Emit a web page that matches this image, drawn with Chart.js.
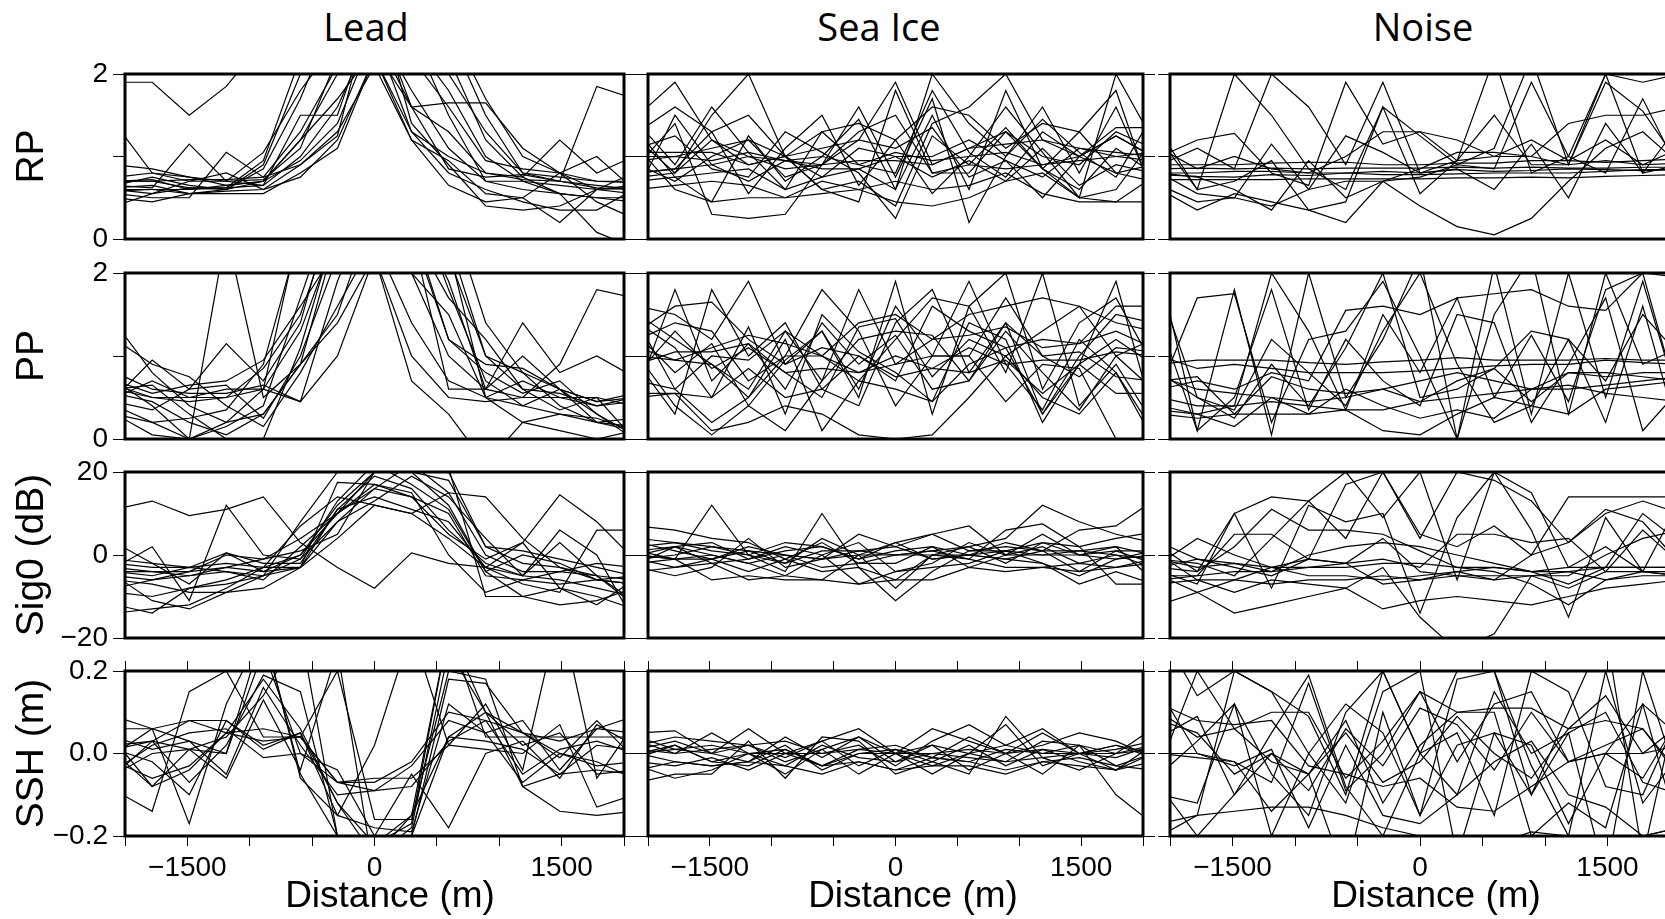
<!DOCTYPE html>
<html>
<head>
<meta charset="utf-8">
<script src="https://cdn.jsdelivr.net/npm/chart.js@4.4.0/dist/chart.umd.min.js"></script>
<style>
  body { margin: 0; background: #fff; width: 1665px; height: 919px; overflow: hidden; position: relative; }
  .col-title { position: absolute; top: 6px; font-family: "Open Sans", sans-serif; font-size: 38px; line-height: 40px; transform: translateX(-50%); white-space: nowrap; color: #000; }
  .x-title { position: absolute; top: 874px; font-family: "Liberation Sans", Arial, sans-serif; font-size: 37px; line-height: 42px; transform: translateX(-50%); white-space: nowrap; color: #000; z-index: 2; }
  canvas { position: absolute; }
</style>
</head>
<body>
<div class="col-title" style="left:366px">Lead</div>
<div class="col-title" style="left:879px">Sea Ice</div>
<div class="col-title" style="left:1423px">Noise</div>
<div class="x-title" style="left:390px">Distance (m)</div>
<div class="x-title" style="left:913px">Distance (m)</div>
<div class="x-title" style="left:1436px">Distance (m)</div>

<script>
// along-track distance of each waveform (m)
const distance = [-2079, -1782, -1485, -1188, -891, -594, -297, 0, 297, 594, 891, 1188, 1485, 1782, 2079];
const xTickLabels = [-1500, 0, 1500];

// ---- Lead ----
const leadRP = [
  [1.9, 1.9, 1.5, 1.85, 2.4, 3.5, 5, 6, 4, 2.5, 1.5, 0.8, 0.75, 0.7, 0.68],
  [1.4, 0.8, 0.75, 0.65, 0.7, 0.95, 1.4, 2.5, 1.3, 1.0, 0.8, 0.72, 0.7, 0.65, 0.6],
  [0.7, 0.72, 0.6, 0.62, 0.65, 1.5, 1.5, 2.8, 1.6, 1.65, 1.65, 1.1, 0.8, 0.6, 0.55],
  [0.65, 0.62, 1.15, 0.7, 0.65, 1.0, 1.6, 2.6, 1.8, 1.1, 0.7, 0.6, 0.55, 0.5, 0.45],
  [0.55, 0.5, 0.5, 1.05, 0.75, 0.9, 1.25, 3, 1.4, 0.9, 0.4, 0.35, 0.4, 0.6, 0.8],
  [0.6, 0.6, 0.55, 0.55, 0.55, 0.8, 1.1, 2.2, 1.3, 0.8, 0.6, 0.45, 0.35, 0.35, 0.6],
  [0.5, 0.45, 0.55, 0.6, 0.9, 2.0, 3, 4, 3, 2.0, 1.3, 0.8, 0.7, 0.62, 0.6],
  [0.75, 0.8, 0.7, 0.7, 0.72, 1.1, 2.2, 3.5, 2.5, 1.5, 0.7, 0.7, 0.65, 0.6, 0.62],
  [0.65, 0.75, 0.65, 0.6, 0.85, 1.7, 2.8, 5, 3, 2.2, 1.2, 0.75, 0.55, 0.5, 0.5],
  [0.62, 0.65, 0.55, 0.58, 0.6, 0.9, 1.3, 2.1, 1.2, 0.95, 0.55, 0.5, 0.2, 0.6, 0.65],
  [0.7, 0.7, 0.62, 0.62, 0.95, 2.2, 3.5, 4.5, 3.5, 2.6, 1.7, 1.0, 0.8, 0.45, 0.25],
  [0.6, 0.55, 0.7, 0.8, 0.6, 0.75, 1.2, 2.2, 1.2, 0.65, 0.45, 0.5, 0.8, 1.0, 0.6],
  [0.58, 0.6, 0.6, 0.65, 0.7, 1.2, 1.7, 2.3, 1.6, 1.3, 0.8, 0.75, 1.2, 0.8, 1.0],
  [0.9, 0.85, 0.75, 0.7, 1.05, 1.8, 2.4, 3, 2.2, 1.6, 0.95, 0.85, 0.8, 0.7, 0.7],
  [0.7, 0.7, 0.72, 0.72, 0.75, 1.3, 2.1, 2.6, 2.4, 1.8, 1.0, 0.7, 0.55, 0.08, -0.1],
  [0.4, 0.55, 0.62, 0.6, 0.7, 1.2, 2.0, 2.5, 1.6, 0.85, 0.75, 0.78, 0.7, 1.85, 1.7]
];
const leadPP = [
  [1.4, 0.8, 0.4, 0.2, 0.3, 0.9, 1.4, 2.2, 1.0, 0.5, 0.45, 0.5, 0.9, 1.8, 1.7],
  [0.5, 0.95, 0.6, 1.15, 0.7, 1.4, 3, 4, 3, 1.8, 0.7, 0.4, 0.3, 0.25, 0.1],
  [0.7, 0.4, 0.0, 2.5, 0.5, 0.9, 2.5, 4, 3, 2.3, 0.5, 0.7, 0.5, 0.5, 0.4],
  [0.5, 0.7, 0.5, 0.5, 0.85, 1.5, 2.8, 3.5, 2.5, 1.7, 1.2, 0.6, 0.55, 0.4, 0.45],
  [0.3, 0.2, 0.0, 0.15, 0.4, 1.7, 3, 4, 2, 1.0, 0.6, 1.0, 0.6, 0.3, 0.0],
  [0.6, 0.5, 0.5, 0.6, 0.6, 1.3, 2.5, 3, 2.5, 1.2, 0.9, 0.85, 0.6, 0.45, 0.5],
  [0.4, 0.2, 0.25, 0.35, 0.9, 2.5, 4, 5, 4, 2.4, 1.0, 0.8, 0.4, 0.2, 0.15],
  [0.8, 0.6, 0.55, 0.55, 0.65, 0.45, 1.0, 2.2, 0.7, 0.3, -0.3, 0.2, 0.3, 0.2, 0.1],
  [0.55, 0.45, 0.2, 0.05, 0.3, 0.9, 1.5, 2.8, 2, 1.5, 0.5, 0.2, 0.1, 0.0, 0.1],
  [0.65, 0.5, 0.45, 0.5, 0.6, 0.45, 1.9, 3, 2.5, 0.6, 0.6, 1.4, 0.8, 1.0, 0.75],
  [0.45, 0.35, 0.6, 0.65, 0.25, 1.0, 2.2, 3.5, 2.8, 1.9, 0.6, 0.5, 0.5, 0.4, 0.5],
  [1.2, 0.9, 0.75, 0.4, 0.15, 0.8, 1.6, 2.4, 1.4, 0.7, 0.5, 0.4, 0.6, 0.2, 0.25],
  [0.3, 0.05, 0.0, 0.2, 0.6, 2.6, 3.5, 4.5, 3.5, 2.8, 1.4, 0.8, 0.6, 0.45, 0.55],
  [0.6, 0.65, 0.3, 0.0, 0.0, 1.1, 2.6, 3.5, 2.6, 1.2, 0.8, 0.55, 0.7, 0.3, 0.05],
  [0.7, 0.55, 0.65, 0.7, 0.95, 1.6, 2.3, 2.7, 2.1, 2.2, 1.0, 0.6, 0.35, 0.5, 0.0]
];
const leadSig0 = [
  [11, 13, 9.5, 11, 14, 3, -3, -8, 0.5, -2, -3, -5, -6, -8, -10],
  [3, -2, -7, 0.5, -4, 0, 10, 20, 25, 20, 2, -2, -3, -6, -7],
  [-3, 2, -11, 12, 0, -1, 8, 16, 22, 15, 0, -4, -4, -2, -3],
  [-4, -4, -5, -4, -5, -1, 13, 22, 17, 11, -4, 0, -2, -6, -7],
  [-5, -6, -5, -3, -4, -3, 11, 19, 16, 6, -2, -5, 3, -5, -11],
  [-2, -3, -3, -2, -3, -3, 17.5, 17, 14, 10, -5, -6, -4, -5, -6],
  [-6, -7, -9, -9, -8, -3, 4, 12, 10, 15, 14, 4, -3, -5, -12],
  [-14, -13, -12, -8, -3, 0, 12, 20, 22, 21, -10, -10, -12, -11, -8],
  [-9, -10, -8, -6, -3, 7, 14, 12, 10, 4, -3, 3, 14.5, 8, -1],
  [-4, -5, -3, -4, -6, 2, 10, 17, 15, 0, -9, -6, -7, -6, -5],
  [-3, -4, -4, -3, -1, 1, 5, 20, 20, 18, 2, 1, -1, -3, -5],
  [-5, -11, -13, -9, -5, -3, 8, 13, 19, 14, 4, -5, 6, 0, -16],
  [-8, -6, -4, 0, -1, 4, 10, 16, 14, 5, -1, 3, -8, -12, -6],
  [-12, -14, -8, -7, -5, 8, 20, 25, 20, 12, -4, -10, -8, -10, -13],
  [-1, -2, -3, 0.5, -2, -2, 11, 14, 11, 8, -3, -7, -9, 6, 6]
];
const leadSSH = [
  [0.09, 0.06, 0.08, 0.05, 0.06, 0.04, -0.07, -0.07, -0.02, 0.1, 0.08, 0.05, 0.03, 0.06, 0.09],
  [0.0, -0.08, 0.01, 0.0, 0.3, -0.05, -0.2, -0.3, -0.2, 0.18, 0.17, 0.05, 0.0, -0.03, -0.02],
  [-0.05, 0.03, 0.08, 0.08, 0.02, 0.05, -0.12, -0.25, -0.15, 0.3, 0.1, -0.08, -0.05, 0.02, 0.01],
  [0.06, 0.06, -0.17, 0.12, 0.3, -0.06, -0.15, -0.18, -0.19, 0.12, 0.05, -0.07, 0.0, -0.02, -0.06],
  [-0.09, -0.14, 0.15, 0.2, 0.04, 0.04, -0.07, -0.06, -0.06, 0.02, 0.01, 0.0, 0.07, -0.13, -0.1],
  [0.0, 0.06, 0.03, -0.05, 0.16, 0.02, -0.1, -0.09, -0.03, 0.08, 0.05, 0.08, -0.04, 0.06, 0.05],
  [-0.02, -0.06, -0.03, 0.05, 0.03, 0.04, 0.2, -0.16, -0.16, 0.2, 0.18, -0.08, -0.14, -0.15, -0.14],
  [0.03, -0.08, -0.04, 0.05, 0.18, 0.06, -0.12, -0.22, -0.17, 0.3, 0.04, 0.04, 0.04, 0.04, 0.04],
  [-0.05, 0.0, 0.01, -0.06, 0.13, -0.04, 0.25, -0.3, -0.2, 0.04, 0.1, 0.02, 0.05, -0.05, -0.04],
  [0.01, -0.02, -0.1, 0.08, 0.01, 0.05, -0.15, 0.02, 0.3, 0.02, 0.12, -0.04, 0.35, -0.06, 0.07],
  [0.04, 0.01, 0.03, 0.0, 0.25, 0.0, -0.07, -0.09, -0.08, 0.03, 0.08, -0.05, 0.01, 0.03, 0.0],
  [0.02, 0.03, -0.07, 0.02, 0.19, 0.15, -0.2, -0.25, -0.18, 0.25, 0.1, 0.05, -0.01, 0.08, -0.01],
  [-0.04, 0.02, 0.05, 0.06, -0.01, 0.0, -0.04, -0.2, -0.05, -0.18, 0.0, 0.03, -0.06, 0.07, 0.02],
  [0.01, 0.03, 0.01, 0.04, 0.14, 0.3, -0.2, -0.22, -0.15, 0.04, 0.03, 0.01, -0.05, -0.04, -0.05]
];

// ---- Sea Ice ----
const iceRP = [
  [1.5, 1.9, 1.2, 0.9, 1.0, 1.1, 1.2, 1.9, 0.9, 1.1, 1.3, 1.0, 0.9, 1.3, 1.1],
  [1.2, 0.8, 1.5, 2.0, 1.0, 0.6, 0.7, 0.4, 1.4, 1.6, 2.0, 1.2, 1.0, 0.8, 0.9],
  [0.9, 1.4, 0.3, 0.25, 0.3, 0.9, 1.6, 0.75, 1.7, 0.2, 1.0, 1.6, 0.8, 1.6, 0.6],
  [1.0, 1.0, 1.1, 1.2, 1.0, 0.6, 0.45, 1.8, 0.8, 0.8, 1.3, 0.85, 0.5, 2.0, 1.2],
  [1.3, 1.6, 1.3, 1.5, 1.0, 1.3, 1.4, 1.2, 1.6, 1.5, 1.1, 1.4, 1.3, 1.8, 0.5],
  [0.8, 0.85, 0.9, 1.0, 0.95, 0.9, 0.95, 0.95, 0.9, 1.1, 1.15, 1.2, 1.1, 1.05, 1.0],
  [1.1, 0.6, 0.45, 0.5, 0.5, 0.7, 0.6, 0.7, 0.6, 0.65, 0.8, 0.55, 0.45, 0.45, 0.45],
  [0.6, 0.65, 0.7, 0.65, 0.5, 0.55, 0.6, 0.45, 0.4, 0.5, 0.7, 0.8, 0.5, 0.45, 0.75],
  [1.4, 0.9, 1.6, 1.05, 0.6, 1.3, 0.9, 0.8, 1.8, 1.05, 0.75, 1.3, 1.0, 1.25, 1.0],
  [0.8, 0.85, 1.3, 0.55, 1.1, 1.5, 0.65, 1.2, 0.55, 1.0, 1.6, 1.05, 0.5, 0.6, 1.2],
  [1.05, 1.05, 1.05, 0.9, 1.0, 0.75, 0.85, 1.0, 1.0, 1.2, 0.95, 0.75, 1.1, 1.0, 0.95],
  [0.9, 0.7, 1.0, 1.2, 0.75, 0.9, 1.2, 1.1, 1.35, 0.75, 0.95, 0.5, 1.0, 1.25, 1.0],
  [0.6, 1.5, 0.9, 0.7, 0.95, 0.85, 0.85, 0.6, 1.5, 0.6, 1.8, 0.85, 0.6, 1.1, 0.8],
  [0.75, 0.8, 1.2, 1.0, 0.85, 0.9, 1.3, 1.5, 0.8, 0.9, 0.85, 0.9, 1.0, 1.35, 1.35],
  [1.3, 0.75, 0.45, 1.25, 0.7, 1.0, 1.45, 0.6, 2.0, 1.4, 1.0, 1.45, 1.05, 0.75, 1.5],
  [1.1, 1.25, 0.85, 0.75, 1.3, 1.05, 0.8, 0.25, 1.25, 0.9, 1.35, 0.85, 1.3, 0.8, 0.7],
  [0.95, 1.0, 0.95, 1.05, 0.95, 1.0, 0.9, 1.05, 0.95, 1.0, 1.05, 0.9, 0.95, 1.0, 1.05],
  [0.7, 0.75, 0.8, 0.85, 0.6, 0.75, 1.1, 1.0, 0.75, 0.95, 0.7, 1.1, 0.65, 0.9, 0.8]
];
const icePP = [
  [1.6, 1.5, 1.2, 1.9, 0.9, 1.3, 0.5, 1.9, 0.3, 1.6, 2.0, 0.6, 1.4, 1.7, 0.9],
  [1.4, 0.6, 0.2, 0.5, 1.2, 0.1, 0.7, 1.2, 1.7, 1.6, 0.8, 2.0, 0.4, 0.9, 0.2],
  [1.2, 1.4, 1.3, 0.7, 1.0, 1.0, 0.7, 0.6, 0.45, 0.9, 1.1, 1.2, 1.15, 1.3, 1.1],
  [0.9, 0.3, 1.8, 1.0, 1.4, 0.6, 0.4, 1.4, 1.8, 0.8, 1.4, 0.3, 0.9, 1.9, 0.3],
  [1.0, 0.95, 0.9, 0.6, 1.3, 1.0, 0.8, 0.9, 1.2, 1.5, 1.6, 1.7, 1.6, 1.4, 1.3],
  [0.5, 0.55, 0.1, 0.2, 0.4, 0.3, 0.05, 0.0, 0.05, 0.5, 1.0, 0.5, 0.3, 0.8, 0.1],
  [1.3, 1.6, 1.65, 1.2, 0.9, 1.1, 1.0, 0.7, 1.6, 1.3, 1.1, 0.3, 1.0, 1.5, 1.4],
  [0.55, 0.55, 0.5, 0.85, 0.5, 0.6, 1.0, 0.75, 0.85, 0.8, 0.95, 0.55, 0.9, 0.55, 0.55],
  [1.1, 0.95, 1.1, 1.25, 1.15, 1.0, 1.4, 1.5, 1.2, 1.25, 1.35, 1.1, 1.15, 1.6, 1.6],
  [1.5, 1.2, 0.9, 0.5, 1.0, 1.8, 1.3, 0.4, 1.0, 1.9, 0.9, 0.35, 1.2, 0.8, 0.0],
  [0.8, 1.3, 0.85, 1.1, 0.8, 0.5, 1.35, 1.45, 0.75, 1.2, 1.0, 1.3, 1.6, 1.0, 1.2],
  [1.25, 0.8, 1.15, 0.4, 0.95, 1.3, 0.6, 1.6, 1.0, 1.0, 0.45, 0.9, 0.85, 0.0, -0.2],
  [0.9, 1.05, 1.05, 1.15, 0.8, 0.85, 0.8, 1.0, 0.85, 1.1, 0.9, 0.95, 0.95, 1.05, 1.0],
  [1.4, 1.1, 0.5, 1.35, 0.3, 1.5, 1.05, 0.8, 0.45, 1.4, 1.2, 0.2, 0.9, 1.2, 0.9],
  [0.7, 0.6, 1.0, 0.95, 1.3, 0.7, 1.2, 1.3, 1.25, 0.7, 1.4, 1.0, 0.75, 1.1, 1.05],
  [1.0, 0.4, 0.05, 0.4, 0.1, 0.7, 1.8, 0.9, 1.0, 1.0, 1.7, 1.0, 1.05, 0.75, 0.7],
  [0.6, 1.8, 0.7, 1.15, 0.6, 1.4, 0.9, 1.25, 0.6, 0.7, 1.3, 0.8, 0.35, 1.0, 0.6]
];
const iceSig0 = [
  [7, 6, 4, 3, -1, -4, -3, -11, -4, 1, 1, 3, 2, 4, 5.5],
  [0, -1, 12, 0, -4, 10, -3, -6, 0, 2, 4, 12, 8, 5, 3],
  [1, 2, -2, -6, -5, 0, -7, -4, -3, -2, 1, -2, -7, -4, -7],
  [-3, -5, -3, 4, -3, -1, 5, 2, 5, 7, 0, 2, -2, 0, -3],
  [2, 3, 1, 0, -2, 4, 0, 0, 1, -1, 6, 7.5, 2, -7, -7],
  [-1, 0, 2, 1, 0, -1, 1, 0, 0, 0, 1, 0, 0, 2, 0],
  [-2, -1, 0, -2, -5, -6, 0, -8, 0, -1, -3, -3, -4, -3, -1],
  [4, 3, 2, 0, 3, 2, -1, 3, 5, 1, 2, 1, 6, 7, 13],
  [-1, -3, -2, -1, 1, 2, -1, 1, 2, -3, 0, 0, 1, 2, -6],
  [0, 2, 0, -2, 0, -3, -2, 0, 1, 2, -2, 3, 0, 1, 1],
  [1, -1, -6, -5, -6, -6, -7, -6, -6, -3, -4, -3, -2, -3, -2],
  [-4, -3, -1, 2, 0, -1, 0, 3, -1, 0, 3, 1, -4, 1, -2],
  [3, 1, -1, -4, -1, 3, -2, -2, 2, 0, -1, -2, -5, -1, 0],
  [-2, 2, 3, -1, 2, 0, 3, -4, -2, 3, 0, 5, 0, -1, 1],
  [0, -1, -1, 1, -2, 1, 1, 2, -1, 0, -1, 1, 1, 0, -1]
];
const iceSSH = [
  [0.05, 0.055, 0.0, 0.06, 0.0, 0.03, 0.06, 0.0, 0.06, 0.03, 0.0, 0.02, 0.05, 0.03, -0.01],
  [-0.07, -0.05, -0.05, 0.03, -0.06, 0.04, 0.03, -0.05, -0.02, -0.05, 0.09, -0.01, -0.04, 0.0, 0.06],
  [0.0, 0.02, -0.02, -0.03, 0.01, -0.03, 0.01, 0.02, -0.01, 0.04, 0.0, -0.05, 0.02, -0.1, -0.17],
  [0.02, 0.04, 0.03, 0.02, -0.02, 0.01, 0.04, 0.0, -0.03, 0.0, 0.02, 0.0, 0.02, -0.03, 0.0],
  [-0.02, -0.03, -0.01, -0.04, 0.0, -0.03, -0.02, -0.04, -0.01, -0.02, -0.04, -0.02, -0.01, -0.03, -0.04],
  [0.01, 0.03, 0.0, 0.02, 0.03, 0.0, 0.02, -0.03, 0.03, 0.07, 0.02, 0.06, 0.0, 0.01, 0.03],
  [-0.03, -0.06, -0.04, 0.0, -0.05, 0.01, -0.05, 0.0, -0.05, 0.0, -0.02, -0.01, 0.0, -0.04, 0.02],
  [0.03, 0.0, 0.05, 0.0, 0.01, -0.03, 0.0, 0.0, 0.02, -0.04, 0.0, 0.05, 0.0, 0.02, -0.01],
  [-0.01, 0.02, -0.02, 0.0, -0.03, 0.02, -0.01, -0.02, 0.02, 0.0, 0.07, -0.03, 0.0, 0.0, 0.01],
  [0.0, -0.02, -0.03, -0.02, 0.02, -0.04, 0.0, 0.01, -0.02, 0.02, -0.03, 0.01, -0.02, -0.04, 0.0],
  [0.01, 0.0, 0.01, 0.02, -0.01, 0.03, -0.03, 0.01, -0.01, -0.02, 0.01, 0.0, 0.0, -0.01, 0.02],
  [0.04, 0.01, 0.0, -0.02, 0.04, -0.01, 0.04, -0.02, 0.0, -0.01, -0.02, 0.03, 0.02, 0.0, 0.02],
  [-0.04, -0.02, -0.03, -0.02, -0.03, -0.05, -0.02, -0.04, -0.03, -0.03, -0.05, -0.02, -0.03, -0.04, -0.02],
  [0.0, 0.01, 0.02, 0.0, 0.0, 0.0, 0.01, 0.0, 0.0, 0.01, 0.0, 0.01, 0.0, 0.02, 0.0]
];

// ---- Noise ----
const noiseRP = [
  [0.9, 0.9, 0.9, 0.92, 0.93, 0.93, 0.9, 0.9, 0.92, 0.92, 0.95, 0.95, 0.93, 0.95, 0.97],
  [0.85, 0.86, 0.85, 0.86, 0.85, 0.86, 0.86, 0.86, 0.87, 0.86, 0.87, 0.86, 0.86, 0.87, 0.87],
  [0.72, 0.72, 0.72, 0.72, 0.73, 0.73, 0.73, 0.73, 0.74, 0.74, 0.75, 0.74, 0.76, 0.77, 0.78],
  [1.2, 0.6, 2.0, 1.5, 0.85, 0.6, 1.6, 1.25, 0.9, 1.1, 2.2, 0.9, 1.9, 1.55, 0.9],
  [0.9, 1.1, 0.85, 2.0, 1.6, 0.9, 1.9, 0.8, 0.95, 2.2, 0.8, 1.0, 2.0, 1.9, 2.0],
  [1.0, 1.2, 1.28, 0.8, 0.65, 1.9, 1.15, 1.3, 1.2, 1.0, 1.0, 1.4, 1.5, 1.5, 1.6],
  [0.6, 0.35, 0.55, 0.45, 0.35, 0.2, 0.7, 0.4, 0.15, 0.05, 0.25, 0.7, 1.1, 1.3, 0.9],
  [0.8, 0.55, 0.5, 1.15, 0.6, 1.25, 1.05, 0.8, 0.85, 0.6, 1.15, 0.5, 1.4, 0.8, 0.9],
  [0.65, 0.45, 0.5, 0.4, 0.6, 0.7, 0.7, 0.85, 1.05, 1.05, 1.0, 0.9, 0.95, 0.9, 0.92],
  [1.1, 0.85, 1.0, 0.85, 0.8, 1.0, 1.3, 1.3, 0.95, 1.0, 1.2, 0.95, 1.2, 0.9, 1.1],
  [0.8, 0.75, 0.6, 0.35, 0.95, 0.5, 0.7, 0.75, 0.9, 0.85, 1.9, 1.0, 0.8, 1.7, 0.8],
  [1.3, 0.6, 0.7, 0.95, 0.35, 0.45, 1.6, 0.55, 0.95, 1.5, 0.9, 0.9, 2.0, 0.8, 1.4],
  [0.8, 0.8, 0.82, 0.82, 0.8, 0.8, 0.82, 0.8, 0.84, 0.82, 0.83, 0.85, 0.84, 0.83, 0.84],
  [0.78, 0.76, 0.75, 0.78, 0.77, 0.8, 0.78, 0.78, 0.79, 0.8, 0.8, 0.8, 0.82, 0.84, 0.84]
];
const noisePP = [
  [1.0, 0.85, 0.9, 0.85, 0.8, 0.8, 0.8, 0.82, 0.85, 0.88, 0.9, 0.9, 0.95, 0.92, 0.9],
  [0.75, 0.6, 0.55, 0.5, 0.45, 0.5, 0.6, 0.7, 0.8, 0.7, 0.6, 0.6, 0.65, 0.7, 0.75],
  [2.0, 0.1, 1.8, 0.05, 2.0, 0.5, 1.2, 2.2, 0.0, 2.1, 0.3, 2.0, 0.5, 1.9, 0.4],
  [0.6, 1.7, 1.75, 0.2, 1.2, 1.3, 1.9, 1.0, 0.0, 1.5, 2.2, 0.3, 2.0, 0.9, 1.1],
  [0.4, 0.3, 0.4, 2.0, 1.3, 0.35, 1.5, 0.8, 1.7, 0.5, 1.25, 0.45, 1.8, 2.0, 0.4],
  [0.3, 0.25, 0.3, 0.3, 0.3, 0.35, 0.1, 0.05, 0.3, 0.5, 0.4, 0.3, 0.6, 0.65, 0.7],
  [0.8, 0.5, 0.25, 0.9, 0.4, 1.1, 2.0, 0.5, 0.6, 0.85, 1.3, 1.2, 0.7, 1.5, 1.0],
  [1.4, 0.1, 0.5, 1.8, 0.35, 1.2, 0.7, 0.4, 1.5, 1.4, 0.2, 0.9, 1.7, 0.1, 0.6],
  [0.6, 0.7, 0.6, 0.8, 0.7, 1.55, 1.6, 1.5, 1.7, 1.75, 1.8, 1.6, 1.55, 2.0, 1.95],
  [0.9, 0.95, 0.95, 0.95, 0.92, 0.9, 0.93, 0.95, 0.98, 0.95, 0.95, 0.95, 0.97, 0.95, 0.95],
  [0.5, 0.4, 0.4, 0.45, 0.4, 0.35, 0.35, 0.45, 0.5, 0.55, 0.6, 0.65, 0.55, 0.5, 0.45],
  [0.35, 0.3, 0.15, 0.5, 0.3, 0.6, 0.4, 0.25, 0.35, 0.25, 0.6, 0.8, 0.8, 0.75, 0.7],
  [1.8, 0.5, 0.35, 1.2, 0.8, 0.4, 1.3, 2.0, 0.9, 0.2, 0.4, 1.2, 0.2, 1.6, 0.0],
  [0.7, 0.75, 0.3, 0.75, 0.6, 0.55, 0.6, 0.45, 0.7, 0.85, 0.45, 0.8, 0.75, 0.8, 0.8]
];
const noiseSig0 = [
  [-3, -4, 10, 14, 13, 20, 9, 20, -6, 20, 15, -3, 2, -4, -5],
  [-6, -5, 5, 5, -1, 17, 20, 5, 2, 7, 0, 14, 14, 14, 14],
  [-12, -9, -14, -12, -10, -8, -13, -11, -10, -11, -12, -10, -8, -7, -6],
  [2, -4, 2, 11, 6, 6, 5, 1, -3, -4, -7, -12, -6, -5, -5],
  [-1, -2, -5, 4, 13, 4, 20, 4, 20, 18, 13, 3, 10, 13, 10],
  [-5, -5, -4, -4, -3, -3, -2, -2, -3, -3, -4, -3, -3, -3, -3],
  [-3, -1, -2, -3, -5, -5, -6, -5, -4, -3, -4, -4, -3, -3, -3],
  [0, -6, -9, -6, -7, -8, -3, -15, -23, -19, -5, -5, 0, 4, 6],
  [-4, -7, 10, -8, 12, 8, 10, -14, 9, 20, 6, -15, 9, -4, 13],
  [-7, -6, -6, -7, -6, -6, -5, -6, -5, -5, -5, -4, -6, -4, -4],
  [-1, -3, -2, -4, 0, 2, 3, 2, 0, -2, -4, -7, -3, 10, 3],
  [-2, 4, 0, -3, -1, -2, -1, -3, 5, 5, 3, 4, -4, 6, -2],
  [-5, -9, -6, -3, -3, -2, -7, -6, -4, -6, -5, -8, -4, -4, -5],
  [3, -1, -3, -5, -1, -2, 4, -4, -5, -6, 0, 3, 11, 8, -2]
];
const noiseSSH = [
  [0.3, 0.14, 0.2, 0.15, 0.0, 0.12, 0.05, -0.15, 0.18, 0.2, -0.1, 0.1, 0.3, -0.25, 0.15],
  [-0.05, 0.03, 0.12, -0.2, 0.0, -0.12, 0.15, 0.2, -0.25, 0.05, 0.02, -0.17, 0.0, 0.12, -0.2],
  [0.1, 0.04, 0.06, -0.02, -0.05, 0.08, -0.12, 0.02, 0.1, 0.1, -0.2, -0.12, -0.18, 0.12, 0.04],
  [-0.2, -0.15, 0.2, 0.15, 0.09, -0.1, 0.2, 0.0, -0.1, 0.15, 0.0, 0.05, -0.3, 0.2, -0.08],
  [0.0, 0.0, -0.03, 0.01, -0.18, 0.02, -0.15, -0.17, -0.1, -0.02, 0.03, -0.1, -0.13, -0.2, -0.18],
  [-0.17, -0.15, -0.14, -0.13, -0.13, -0.15, -0.18, -0.2, -0.21, -0.22, -0.19, -0.2, -0.21, -0.2, -0.18],
  [0.08, 0.05, -0.05, 0.0, -0.09, 0.06, -0.03, 0.11, 0.07, -0.04, 0.1, -0.02, 0.0, -0.06, 0.09],
  [-0.1, -0.12, 0.12, -0.05, -0.15, 0.1, 0.2, 0.0, 0.05, -0.15, 0.2, 0.15, -0.08, -0.1, 0.1],
  [0.12, 0.08, 0.07, 0.08, -0.03, -0.05, -0.08, -0.06, -0.13, -0.14, -0.08, -0.02, 0.0, 0.0, 0.02],
  [0.0, -0.01, -0.02, -0.07, 0.17, -0.09, 0.0, 0.15, 0.1, 0.11, 0.11, 0.06, 0.08, 0.06, -0.05],
  [-0.08, -0.2, -0.1, 0.05, 0.19, -0.08, -0.2, 0.0, 0.2, 0.2, -0.03, -0.2, 0.2, -0.12, 0.0],
  [0.15, 0.0, -0.02, -0.14, -0.05, -0.3, 0.1, -0.15, 0.02, 0.05, -0.1, 0.05, 0.1, -0.07, -0.1],
  [0.04, 0.09, -0.1, 0.0, -0.05, 0.05, -0.07, -0.02, 0.09, 0.0, -0.06, 0.06, 0.14, 0.0, 0.07],
  [-0.03, 0.2, 0.06, 0.1, 0.1, -0.06, 0.03, 0.15, -0.02, 0.12, 0.15, -0.02, 0.02, 0.06, -0.06]
];

// rows: parameter, axis range, tick labels
const rowDefs = [
  { title: 'RP', min: 0, max: 2, step: 1, labels: { 0: '0', 2: '2' }, digits: 0 },
  { title: 'PP', min: 0, max: 2, step: 1, labels: { 0: '0', 2: '2' }, digits: 0 },
  { title: 'Sig0 (dB)', min: -20, max: 20, step: 20, labels: null, digits: 0 },
  { title: 'SSH (m)', min: -0.2, max: 0.2, step: 0.2, labels: null, digits: 1 }
];
const panelData = [
  [leadRP, iceRP, noiseRP],
  [leadPP, icePP, noisePP],
  [leadSig0, iceSig0, noiseSig0],
  [leadSSH, iceSSH, noiseSSH]
];

// layout of the frames (px)
const colBox = [{ left: 125, width: 499 }, { left: 648, width: 495 }, { left: 1170, width: 500 }];
const rowBox = [{ top: 74, height: 165 }, { top: 273, height: 166 }, { top: 472, height: 166 }, { top: 671, height: 165 }];

const FONT = '"Liberation Sans", Arial, sans-serif';
const minus = s => String(s).replace('-', '\u2212');

const framePlugin = {
  id: 'frame',
  afterDraw(chart) {
    const a = chart.chartArea, c = chart.ctx;
    c.save();
    c.strokeStyle = '#000';
    c.lineWidth = 3;
    c.strokeRect(a.left, a.top, a.right - a.left, a.bottom - a.top);
    c.restore();
  }
};

// fixed box size, no extra room for overhanging labels
function fixBox(size, horizontal) {
  return s => {
    if (horizontal) s.height = size; else s.width = size;
    s.paddingTop = 0; s.paddingBottom = 0; s.paddingLeft = 0; s.paddingRight = 0;
  };
}

function makePanel(r, c) {
  const rd = rowDefs[r];
  const isBottom = r === 3;
  const isFirst = c === 0;
  const padL = isFirst ? colBox[0].left : 14;
  const padR = 14;
  const padT = 16;
  const padB = isBottom ? 50 : 16;

  const canvas = document.createElement('canvas');
  const W = padL + colBox[c].width + padR;
  const H = padT + rowBox[r].height + padB;
  canvas.width = W;
  canvas.height = H;
  canvas.style.left = (colBox[c].left - padL) + 'px';
  canvas.style.top = (rowBox[r].top - padT) + 'px';
  canvas.style.width = W + 'px';
  canvas.style.height = H + 'px';
  document.body.appendChild(canvas);

  const datasets = panelData[r][c].map(series => ({
    data: series.slice(0, distance.length).map((v, i) => ({ x: distance[i], y: v })),
    borderColor: '#000',
    borderWidth: 1.2,
    pointRadius: 0,
    tension: 0,
    fill: false,
    clip: 0
  }));

  const yLabel = v => {
    if (rd.labels) return rd.labels[v] !== undefined ? rd.labels[v] : '';
    return minus(Number(v).toFixed(rd.digits));
  };

  const scales = {
    x: {
      type: 'linear', min: -2000, max: 2000, position: 'bottom',
      afterFit: fixBox(padB, true),
      ticks: {
        display: isBottom, stepSize: 500, autoSkip: false, maxRotation: 0, padding: 5,
        color: '#000', font: { family: FONT, size: 28 },
        callback: v => xTickLabels.includes(v) ? minus(v) : ''
      },
      grid: { display: isBottom, drawOnChartArea: false, drawTicks: true, tickLength: 10, color: '#000', lineWidth: 1 },
      border: { display: false }
    },
    y: {
      type: 'linear', min: rd.min, max: rd.max, position: 'left',
      afterFit: fixBox(padL, false),
      ticks: { display: isFirst, stepSize: rd.step, autoSkip: false, padding: 5, color: '#000', font: { family: FONT, size: 28 }, callback: yLabel },
      grid: { drawOnChartArea: false, drawTicks: true, tickLength: 12, color: '#000', lineWidth: 1 },
      border: { display: false },
      title: { display: isFirst, text: rd.title, color: '#000', font: { family: FONT, size: 39 }, padding: { top: 9, bottom: 0 } }
    },
    y2: {
      type: 'linear', min: rd.min, max: rd.max, position: 'right',
      afterFit: fixBox(padR, false),
      ticks: { display: false, stepSize: rd.step },
      grid: { drawOnChartArea: false, drawTicks: true, tickLength: 12, color: '#000', lineWidth: 1 },
      border: { display: false }
    }
  };
  if (isBottom) {
    scales.x2 = {
      type: 'linear', min: -2000, max: 2000, position: 'top',
      afterFit: fixBox(padT, true),
      ticks: { display: false, stepSize: 500 },
      grid: { drawOnChartArea: false, drawTicks: true, tickLength: 10, color: '#000', lineWidth: 1 },
      border: { display: false }
    };
  }

  new Chart(canvas, {
    type: 'line',
    data: { datasets },
    options: {
      responsive: false,
      animation: false,
      events: [],
      layout: { padding: { top: isBottom ? 0 : padT, left: 0, right: 0, bottom: 0 } },
      plugins: { legend: { display: false }, tooltip: { enabled: false } },
      scales
    },
    plugins: [framePlugin]
  });
}

for (let r = 0; r < 4; r++) {
  for (let c = 0; c < 3; c++) makePanel(r, c);
}
</script>
</body>
</html>
